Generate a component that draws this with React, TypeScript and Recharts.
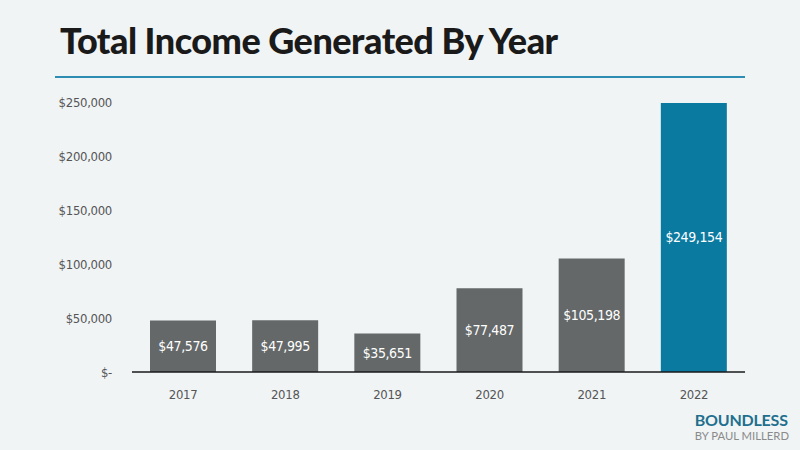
import React from "react";
import { BarChart, Bar, XAxis, YAxis, Cell, LabelList } from "recharts";

const years = ["2017", "2018", "2019", "2020", "2021", "2022"];
const income = [47576, 47995, 35651, 77487, 105198, 249154];
const yTicks = [0, 50000, 100000, 150000, 200000, 250000];

const data = years.map((year, i) => ({ year, income: income[i] }));

const NARROW = "'DejaVu Sans', sans-serif";
const money = (v: number) => (v === 0 ? "$-" : "$" + v.toLocaleString("en-US"));

export default function App() {
  return (
    <div
      style={{
        position: "absolute",
        left: 0,
        top: 0,
        width: 800,
        height: 450,
        background: "#f0f4f5",
        overflow: "hidden",
      }}
    >
      <div
        style={{
          position: "absolute",
          left: 60,
          top: 18,
          fontFamily: "Lato, sans-serif",
          fontWeight: 900,
          fontSize: 36,
          color: "#1a1a1a",
          letterSpacing: -0.5,
        }}
      >
        Total Income Generated By Year
      </div>
      <div
        style={{ position: "absolute", left: 55, top: 76, width: 690, height: 2, background: "#2f8db3" }}
      />

      <BarChart
        width={800}
        height={450}
        data={data}
        margin={{ top: 102, right: 55, bottom: 48, left: 72 }}
        style={{ fontStretch: "condensed" }}
      >
        <XAxis
          dataKey="year"
          height={30}
          axisLine={{ stroke: "#1a1a1a", strokeWidth: 1.5 }}
          tickLine={false}
          tickMargin={12}
          tick={{ fill: "#555", fontSize: 13, fontFamily: NARROW, letterSpacing: -0.3 }}
        />
        <YAxis
          width={60}
          domain={[0, 250000]}
          ticks={yTicks}
          axisLine={false}
          tickLine={false}
          tickMargin={14}
          tickFormatter={money}
          tick={{ fill: "#555", fontSize: 13, fontFamily: NARROW, letterSpacing: -0.3 }}
        />
        <Bar dataKey="income" barSize={66} isAnimationActive={false}>
          {data.map((d, i) => (
            <Cell key={d.year} fill={i === data.length - 1 ? "#0b7aa0" : "#646868"} />
          ))}
          <LabelList
            dataKey="income"
            position="center"
            formatter={(v: number) => money(v)}
            fill="#ffffff"
            fontSize={14}
            fontFamily={NARROW}
            letterSpacing={-0.4}
          />
        </Bar>
      </BarChart>

      <div
        style={{
          position: "absolute",
          right: 11,
          top: 412,
          fontFamily: "Lato, sans-serif",
          lineHeight: 1.05,
        }}
      >
        <div style={{ fontSize: 16, fontWeight: 700, color: "#1f6f8e", letterSpacing: -0.2 }}>BOUNDLESS</div>
        <div style={{ fontSize: 11.3, color: "#8a8a8a", marginTop: 1 }}>BY PAUL MILLERD</div>
      </div>
    </div>
  );
}
